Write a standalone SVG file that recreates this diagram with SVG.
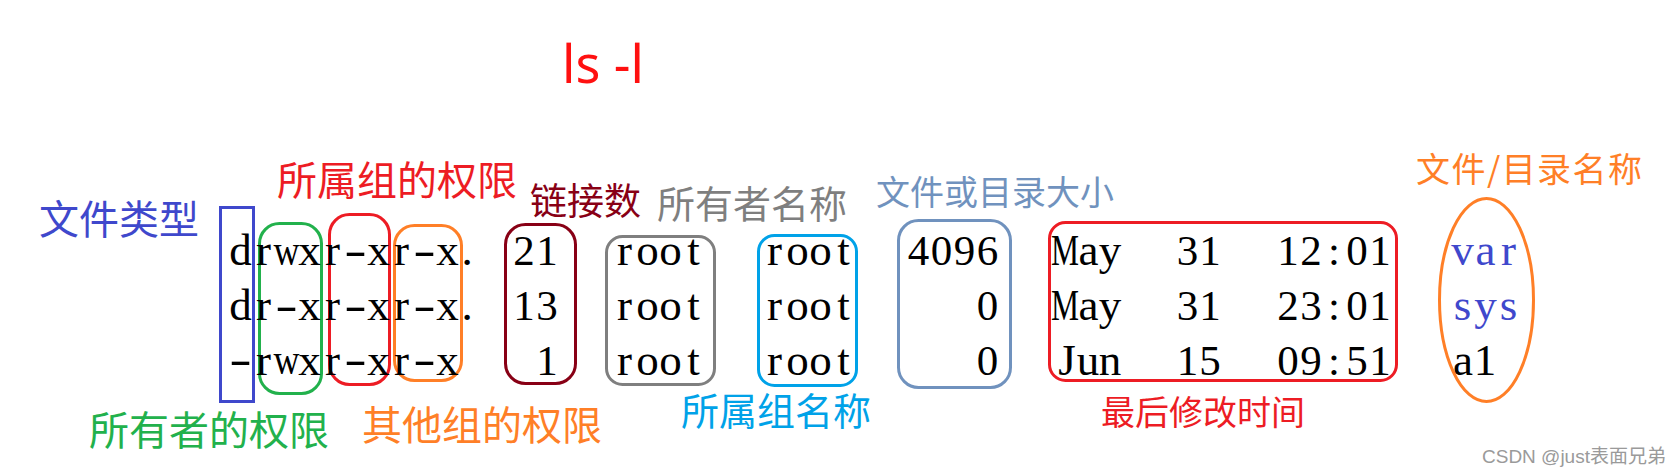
<svg xmlns="http://www.w3.org/2000/svg" width="1678" height="476" viewBox="0 0 1678 476">
<style>
.box{fill:none;stroke-width:3}
.lbl{font-family:"Noto Sans CJK SC","Noto Sans",sans-serif}
.mono{font-family:"Liberation Serif","DejaVu Serif",serif;font-size:45px;fill:#000;text-anchor:middle}
.num{font-size:43px}
.blue{fill:#3F48CC}
</style>
<rect width="1678" height="476" fill="#fff"/>
<g id="title">
<text x="562" y="83" font-family="Noto Sans, sans-serif" font-size="52" fill="#FF1010">ls -l</text>
</g>
<g id="file-type">
<rect class="box" x="220.5" y="207.5" width="33" height="194" stroke="#3F48CC"/>
<text class="lbl" x="39" y="234" font-size="40" fill="#3F48CC">文件类型</text>
<text class="mono" x="240.5" y="265">d</text><text class="mono" x="240.5" y="320">d</text>
<text class="mono" transform="scale(1.5 1)" x="160.33" y="374.5">-</text>
</g>
<g id="owner-perm">
<rect class="box" x="259.5" y="223.5" width="62" height="170" rx="20" stroke="#22B14C"/>
<text class="lbl" x="89" y="445" font-size="40" fill="#22B14C">所有者的权限</text>
<text class="mono" x="263.5" y="265">r</text><text class="mono" transform="scale(0.8 1)" x="358.13" y="265">w</text><text class="mono" x="309.5" y="265">x</text>
<text class="mono" x="263.5" y="320">r</text><text class="mono" transform="scale(1.5 1)" x="191" y="320">-</text><text class="mono" x="309.5" y="320">x</text>
<text class="mono" x="263.5" y="374.5">r</text><text class="mono" transform="scale(0.8 1)" x="358.13" y="374.5">w</text><text class="mono" x="309.5" y="374.5">x</text>
</g>
<g id="group-perm">
<rect class="box" x="329.5" y="214.5" width="60" height="170" rx="20" stroke="#ED1C24"/>
<text class="lbl" x="277" y="195" font-size="40" fill="#ED1C24">所属组的权限</text>
<text class="mono" x="332.5" y="265">r</text><text class="mono" transform="scale(1.5 1)" x="237" y="265">-</text><text class="mono" x="378.5" y="265">x</text>
<text class="mono" x="332.5" y="320">r</text><text class="mono" transform="scale(1.5 1)" x="237" y="320">-</text><text class="mono" x="378.5" y="320">x</text>
<text class="mono" x="332.5" y="374.5">r</text><text class="mono" transform="scale(1.5 1)" x="237" y="374.5">-</text><text class="mono" x="378.5" y="374.5">x</text>
</g>
<g id="other-perm">
<rect class="box" x="394.5" y="225.5" width="67" height="155" rx="20" stroke="#FF7F27"/>
<text class="lbl" x="362" y="440" font-size="40" fill="#FF7F27">其他组的权限</text>
<text class="mono" x="401.5" y="265">r</text><text class="mono" transform="scale(1.5 1)" x="283" y="265">-</text><text class="mono" x="447.5 467" y="265">x.</text>
<text class="mono" x="401.5" y="320">r</text><text class="mono" transform="scale(1.5 1)" x="283" y="320">-</text><text class="mono" x="447.5 467" y="320">x.</text>
<text class="mono" x="401.5" y="374.5">r</text><text class="mono" transform="scale(1.5 1)" x="283" y="374.5">-</text><text class="mono" x="447.5" y="374.5">x</text>
</g>
<g id="links">
<rect class="box" x="505.5" y="224.5" width="70" height="159" rx="20" stroke="#880015"/>
<text class="lbl" x="530" y="215" font-size="37" fill="#880015">链接数</text>
<text class="mono num" x="524 547" y="265">21</text><text class="mono num" x="524 547" y="320">13</text><text class="mono num" x="547" y="374.5">1</text>
</g>
<g id="owner-name">
<rect class="box" x="606.5" y="236.5" width="108" height="148" rx="16" stroke="#7F7F7F"/>
<text class="lbl" x="657" y="218" font-size="38" fill="#7F7F7F">所有者名称</text>
<text class="mono" x="624.5 647.5 670.5 693.5" y="265">root</text><text class="mono" x="624.5 647.5 670.5 693.5" y="320">root</text><text class="mono" x="624.5 647.5 670.5 693.5" y="374.5">root</text>
</g>
<g id="group-name">
<rect class="box" x="758.5" y="235.5" width="98" height="150" rx="16" stroke="#00A2E8"/>
<text class="lbl" x="681" y="425" font-size="38" fill="#00A2E8">所属组名称</text>
<text class="mono" x="774.5 797.5 820.5 843.5" y="265">root</text><text class="mono" x="774.5 797.5 820.5 843.5" y="320">root</text><text class="mono" x="774.5 797.5 820.5 843.5" y="374.5">root</text>
</g>
<g id="size">
<rect class="box" x="898.5" y="220.5" width="112" height="167" rx="20" stroke="#7092BE"/>
<text class="lbl" x="876" y="205" font-size="34" fill="#7092BE">文件或目录大小</text>
<text class="mono num" x="918.5 941.5 964.5 987.5" y="265">4096</text><text class="mono num" x="987.5" y="320">0</text><text class="mono num" x="987.5" y="374.5">0</text>
</g>
<g id="mtime">
<rect class="box" x="1049.5" y="222.5" width="347" height="158" rx="16" stroke="#ED1C24"/>
<text class="lbl" x="1101" y="425" font-size="34" fill="#ED1C24">最后修改时间</text>
<text class="mono" transform="scale(0.7 1)" x="1521.43" y="265">M</text><text class="mono" x="1088.5 1110" y="265">ay</text>
<text class="mono" transform="scale(0.7 1)" x="1521.43" y="320">M</text><text class="mono" x="1088.5 1110" y="320">ay</text>
<text class="mono" x="1067 1088 1110" y="374.5">Jun</text>
<text class="mono num" x="1187.5 1210" y="265">31</text><text class="mono num" x="1187.5 1210" y="320">31</text><text class="mono num" x="1187.5 1210" y="374.5">15</text>
<text class="mono num" x="1288 1311 1334 1357 1380" y="265">12:01</text><text class="mono num" x="1288 1311 1334 1357 1380" y="320">23:01</text><text class="mono num" x="1288 1311 1334 1357 1380" y="374.5">09:51</text>
</g>
<g id="name">
<ellipse class="box" cx="1486.5" cy="300" rx="47" ry="101.5" stroke="#FF7F27"/>
<text class="lbl" x="1416" y="182" font-size="34" fill="#FF7F27" textLength="226" lengthAdjust="spacing">文件/目录名称</text>
<text class="mono blue" x="1462.5 1485.5 1508.5" y="265">var</text><text class="mono blue" x="1462.5 1485.5 1508.5" y="320">sys</text><text class="mono" x="1463 1485" y="374.5">a1</text>
</g>
<g id="watermark">
<text x="1482" y="463" font-family="Liberation Sans, Noto Sans CJK SC, sans-serif" font-size="19" fill="#9A9A9A">CSDN @just表面兄弟</text>
</g>
</svg>
